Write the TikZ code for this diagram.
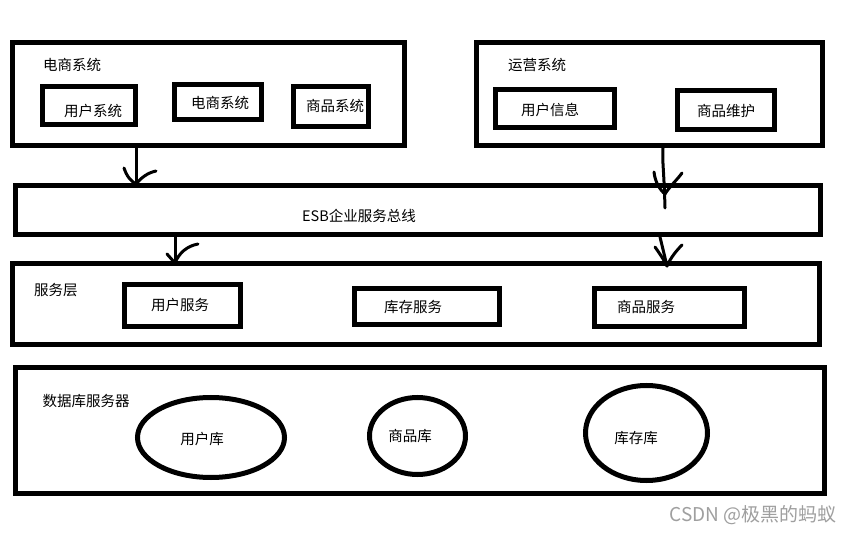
\documentclass[tikz,border=0pt]{standalone}
\usepackage{fontspec}
\newfontfamily\cjkfont{Noto Sans CJK SC}
\usetikzlibrary{shapes.geometric}

\begin{document}
\begin{tikzpicture}[x=1pt, y=-1pt,
  every node/.style={font=\cjkfont\fontsize{14.5}{17}\selectfont},
  box/.style={draw, line width=5pt, inner sep=0pt},
  dbase/.style={ellipse, draw, line width=5pt, inner sep=0pt},
  pen/.style={line width=3pt, line cap=round, line join=round}]
  \fill[white] (0,0) rectangle (854,534);
  \useasboundingbox (0,0) rectangle (854,534);
\begin{scope}
  \node[box, minimum width=392pt, minimum height=103pt] (ds) at (208.5,94) {};
  \node (dsT) at (72,65) {电商系统};
  \node[box, minimum width=93pt, minimum height=38pt] (yhxt) at (89,105.5) {};
  \node (yhxtT) at (93,111) {用户系统};
  \node[box, minimum width=87pt, minimum height=35pt] (dsxt) at (218,102) {};
  \node (dsxtT) at (220,103) {电商系统};
  \node[box, minimum width=75pt, minimum height=40pt] (spxt) at (331,106.5) {};
  \node (spxtT) at (335,106) {商品系统};
\end{scope}
\begin{scope}
  \node[box, minimum width=346pt, minimum height=103pt] (yy) at (649.5,94) {};
  \node (yyT) at (537,65) {运营系统};
  \node[box, minimum width=119pt, minimum height=38pt] (yhxx) at (555,108.5) {};
  \node (yhxxT) at (550,110) {用户信息};
  \node[box, minimum width=97pt, minimum height=39pt] (spwh) at (726,110) {};
  \node (spwhT) at (726,111) {商品维护};
\end{scope}
  \node[box, minimum width=805pt, minimum height=49pt] (esb) at (418,210) {};
  \node (esbT) at (359,216) {ESB企业服务总线};
\begin{scope}
  \node[box, minimum width=807pt, minimum height=81pt] (fw) at (416,304) {};
  \node (fwT) at (56,290) {服务层};
  \node[box, minimum width=116pt, minimum height=42pt] (yhfw) at (182.5,305.5) {};
  \node (yhfwT) at (180,305) {用户服务};
  \node[box, minimum width=145pt, minimum height=36pt] (kcfw) at (427,306.5) {};
  \node (kcfwT) at (413,307) {库存服务};
  \node[box, minimum width=150pt, minimum height=38pt] (spfw) at (669.5,307.5) {};
  \node (spfwT) at (646,307) {商品服务};
\end{scope}
\begin{scope}
  \node[box, minimum width=809pt, minimum height=126pt] (db) at (420,430.5) {};
  \node (dbT) at (86,401) {数据库服务器};
  \node[dbase, minimum width=147pt, minimum height=80pt] (yhk) at (211,437.5) {};
  \node (yhkT) at (202,439) {用户库};
  \node[dbase, minimum width=96pt, minimum height=77pt] (spk) at (417.5,436) {};
  \node (spkT) at (410,436) {商品库};
  \node[dbase, minimum width=122pt, minimum height=95pt] (kck) at (646.5,433) {};
  \node (kckT) at (636,438) {库存库};
\end{scope}
  \coordinate (tipA) at (136,184);
  \coordinate (tipB) at (175,263);
  \coordinate (tipC) at (665,194);
  \coordinate (tipD) at (667,266);
  \draw[pen] (ds.south -| tipA) -- (tipA);
  \draw[pen] (124,168) .. controls (127,177) and (131,181) .. (tipA) .. controls (141,178) and (147,173) .. (156,171);
  \draw[pen] (esb.south -| tipB) -- (tipB);
  \draw[pen] (167,254) -- (tipB) .. controls (179,253) and (187,246) .. (198,244);
  \draw[pen] ([xshift=-2pt]yy.south -| tipC) .. controls (662,160) and (664,170) .. ([yshift=-14pt]tipC);
  \draw[pen] (654,172) .. controls (655,182) and (660,190) .. (tipC) .. controls (670,186) and (677,180) .. (682,173);
  \draw[pen] ([xshift=-7pt]esb.south -| tipD) -- (tipD);
  \draw[pen] (655,247) .. controls (660,254) and (664,260) .. (tipD) .. controls (671,257) and (677,250) .. (682,245);
  \node[text=gray!75, font=\cjkfont\fontsize{19}{22}\selectfont] (mark) at (753,515) {CSDN @极黑的蚂蚁};
\end{tikzpicture}
\end{document}
